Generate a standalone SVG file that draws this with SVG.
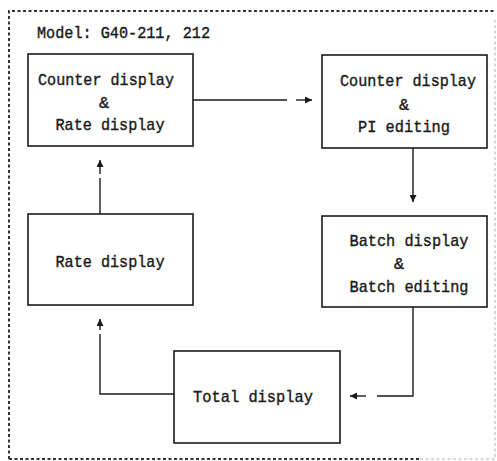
<svg xmlns="http://www.w3.org/2000/svg" width="497" height="461" viewBox="0 0 497 461">
<defs>
<style>
.frame{fill:none;stroke:#333;stroke-width:2;stroke-dasharray:3 2.5}
.frame-faint{fill:none;stroke:#ccc;stroke-width:1.5;stroke-dasharray:3 2.5}
.box{fill:#fff;stroke:#1a1a1a;stroke-width:1.6}
.t{font-family:"Liberation Mono","DejaVu Sans Mono",monospace;font-size:17px;fill:#1a1a1a;stroke:#1a1a1a;stroke-width:0.4}
.c{text-anchor:middle}
.ln{fill:none;stroke:#1a1a1a;stroke-width:1.4}
</style>
<marker id="ah" viewBox="0 0 10 10" refX="10" refY="5" markerWidth="7" markerHeight="7" markerUnits="userSpaceOnUse" orient="auto">
<path d="M0,0 L10,5 L0,10 z" fill="#1a1a1a"/>
</marker>
</defs>
<rect width="497" height="461" fill="#fff"/>
<path class="frame" d="M9,459 L9,11 L496,11"/>
<path class="frame" d="M9,459 L420,459"/>
<path class="frame-faint" d="M420,459 L495,459 L495,20"/>
<text class="t" x="37" y="38" textLength="173" lengthAdjust="spacingAndGlyphs">Model: G40-211, 212</text>

<g id="connectors">
<path class="ln" d="M193,100 L287,100"/>
<path class="ln" d="M296,100 L312,100" marker-end="url(#ah)"/>
<path class="ln" d="M413,148 L413,202" marker-end="url(#ah)"/>
<path class="ln" d="M413,307 L413,396 L377,396"/>
<path class="ln" d="M366,396 L350,396" marker-end="url(#ah)"/>
<path class="ln" d="M174,394 L100,394 L100,334"/>
<path class="ln" d="M100,330 L100,319" marker-end="url(#ah)"/>
<path class="ln" d="M100,214 L100,178"/>
<path class="ln" d="M100,174 L100,160" marker-end="url(#ah)"/>
</g>

<g id="node-counter-rate">
<rect class="box" x="28" y="54" width="165" height="92"/>
<text class="t c" x="106" y="85" textLength="136" lengthAdjust="spacingAndGlyphs">Counter display</text>
<text class="t c" x="104" y="108">&amp;</text>
<text class="t c" x="110" y="130" textLength="109" lengthAdjust="spacingAndGlyphs">Rate display</text>
</g>

<g id="node-counter-pi">
<rect class="box" x="322" y="55" width="165" height="93"/>
<text class="t c" x="408" y="86" textLength="136" lengthAdjust="spacingAndGlyphs">Counter display</text>
<text class="t c" x="404" y="110">&amp;</text>
<text class="t c" x="404" y="132" textLength="92" lengthAdjust="spacingAndGlyphs">PI editing</text>
</g>

<g id="node-rate">
<rect class="box" x="28" y="214" width="165" height="91"/>
<text class="t c" x="110" y="267" textLength="109" lengthAdjust="spacingAndGlyphs">Rate display</text>
</g>

<g id="node-batch">
<rect class="box" x="322" y="216" width="165" height="91"/>
<text class="t c" x="409" y="246" textLength="119" lengthAdjust="spacingAndGlyphs">Batch display</text>
<text class="t c" x="399" y="269">&amp;</text>
<text class="t c" x="409" y="292" textLength="119" lengthAdjust="spacingAndGlyphs">Batch editing</text>
</g>

<g id="node-total">
<rect class="box" x="174" y="351" width="166" height="92"/>
<text class="t c" x="253" y="402" textLength="120" lengthAdjust="spacingAndGlyphs">Total display</text>
</g>
</svg>
